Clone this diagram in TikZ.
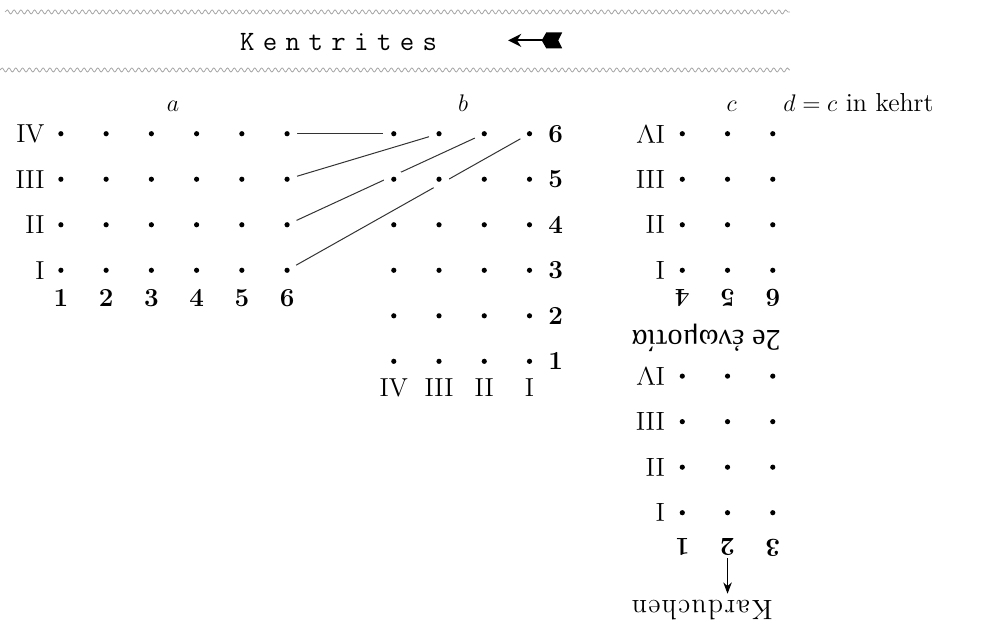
\documentclass[tikz,border=0pt]{standalone}
\usepackage{fontspec}
\usetikzlibrary{
    arrows.meta,
    backgrounds,
    decorations.pathmorphing
}
\newfontfamily\greekfont{Liberation Serif}
\newcommand{\colstep}{0.795}
\newcommand{\rowstep}{0.80}
\tikzset{
    dot/.style={
        circle,
        fill=white,
        inner sep=0pt,
        minimum size=10pt,
        path picture={\fill[black] (path picture bounding box.center) circle (1.3pt);}
    },
    row label/.style={
        inner sep=0pt,
        anchor=east
    },
    turned label/.style={
        inner sep=0pt,
        rotate=180
    },
    num label/.style={
        inner sep=0pt,
        font=\fontsize{13}{15}\selectfont\bfseries
    },
    group label/.style={
        inner sep=0pt,
        anchor=base
    },
    link/.style={
        draw=black!80,
        line width=0.5pt
    },
    wave/.style={
        draw=black!35,
        line width=0.4pt,
        decorate,
        decoration={snake, amplitude=0.35mm, segment length=1.2mm}
    }
}
\newcommand{\drawdots}[5]{%
    \foreach \i in {1,...,#4} {
        \foreach \j in {1,...,#5} {
            \node[dot] (#1-\i-\j) at ({#2+(\i-1)*\colstep},{#3-(\j-1)*\rowstep}) {};
        }
    }
}

\begin{document}
\begin{tikzpicture}[font=\fontsize{13}{15}\selectfont]
    \useasboundingbox (0,0) rectangle (17.45,11.04);

    % -------------------------------------------------------------------------
    % Title between the two wavy rules.
    % -------------------------------------------------------------------------
    \draw[wave] (0.09,10.83) -- (13.88,10.83);
    \node[font=\fontsize{14}{16}\selectfont\ttfamily] (title) at (5.95,10.30)
        {K\kern4.2pt e\kern4.2pt n\kern4.2pt t\kern4.2pt r\kern4.2pt i\kern4.2pt t\kern4.2pt e\kern4.2pt s};
    \coordinate (tip) at (8.93,10.33);
    \coordinate (tail) at (9.70,10.33);
    \draw[-{Stealth[length=2.3mm, width=2.3mm]}, line width=1pt] (tail) -- (tip);
    \fill (9.52,10.33) -- (9.60,10.47) -- (9.88,10.47) -- (9.81,10.33)
        -- (9.88,10.19) -- (9.60,10.19) -- cycle;
    \draw[wave] (0.00,9.81) -- (13.88,9.81);

    % -------------------------------------------------------------------------
    % a: four ranks of six files.
    % -------------------------------------------------------------------------
    \node[group label] (lab-a) at (3.04,9.085) {$a$};
    \drawdots{a}{1.07}{8.69}{6}{4}
    \foreach \rn [count=\j] in {IV,III,II,I} {
        \node[row label] (a-r\j) at (0.79,{8.69-(\j-1)*\rowstep}) {\rn};
    }
    \foreach \i in {1,...,6} {
        \node[num label] (a-n\i) at ({1.07+(\i-1)*\colstep},5.80) {\i};
    }

    % -------------------------------------------------------------------------
    % b: the ranks turned into files.
    % -------------------------------------------------------------------------
    \node[group label] (lab-b) at (8.14,9.085) {$b$};
    \drawdots{b}{6.92}{8.69}{4}{6}
    \foreach \rn [count=\i] in {IV,III,II,I} {
        \node[inner sep=0pt] (b-c\i) at ({6.92+(\i-1)*\colstep},4.22) {\rn};
    }
    \foreach \n [count=\j] in {6,...,1} {
        \node[num label, anchor=west] (b-n\j) at (9.63,{8.69-(\j-1)*\rowstep}) {\n};
    }

    % -------------------------------------------------------------------------
    % c: two enomotiai, drawn upside down.
    % -------------------------------------------------------------------------
    \node[group label] (lab-c) at (12.86,9.085) {$c$};
    \node[group label, anchor=base west] (lab-d) at (13.76,9.085) {$d=c$ in kehrt};
    \drawdots{cu}{11.99}{8.69}{3}{4}
    \drawdots{cl}{11.99}{4.43}{3}{4}
    \foreach \rn [count=\j] in {IV,III,II,I} {
        \node[turned label, anchor=west] (cu-r\j) at (11.69,{8.69-(\j-1)*\rowstep}) {\rn};
        \node[turned label, anchor=west] (cl-r\j) at (11.69,{4.43-(\j-1)*\rowstep}) {\rn};
    }
    \foreach \n [count=\i] in {4,5,6} {
        \node[num label, rotate=180] (cu-n\i) at ({11.99+(\i-1)*\colstep},5.80) {\n};
    }
    \node[turned label, font=\fontsize{15}{17}\selectfont\greekfont] (enomotia)
        at (12.41,5.10) {2e ἐνωμοτία};
    \foreach \n [count=\i] in {1,2,3} {
        \node[num label, rotate=180] (cl-n\i) at ({11.99+(\i-1)*\colstep},1.42) {\n};
    }
    \node[turned label, font=\fontsize{14}{16}\selectfont] (karduchen) at (12.34,0.32)
        {K\kern0.6pt a\kern0.6pt r\kern0.6pt d\kern0.6pt u\kern0.6pt c\kern0.6pt h\kern0.6pt e\kern0.6pt n};
    \draw[-{Stealth[length=2mm]}, line width=0.6pt, shorten <=1pt, shorten >=3pt]
        (cl-n2.north) -- (cl-n2.north |- karduchen.south);

    % Lines from a to b.
    \begin{scope}[on background layer]
        \draw[link] (a-6-1) -- (b-1-1);
        \draw[link] (a-6-2) -- (b-2-1);
        \draw[link] (a-6-3) -- (b-3-1);
        \draw[link] (a-6-4) -- (b-4-1);
    \end{scope}

\end{tikzpicture}
\end{document}
